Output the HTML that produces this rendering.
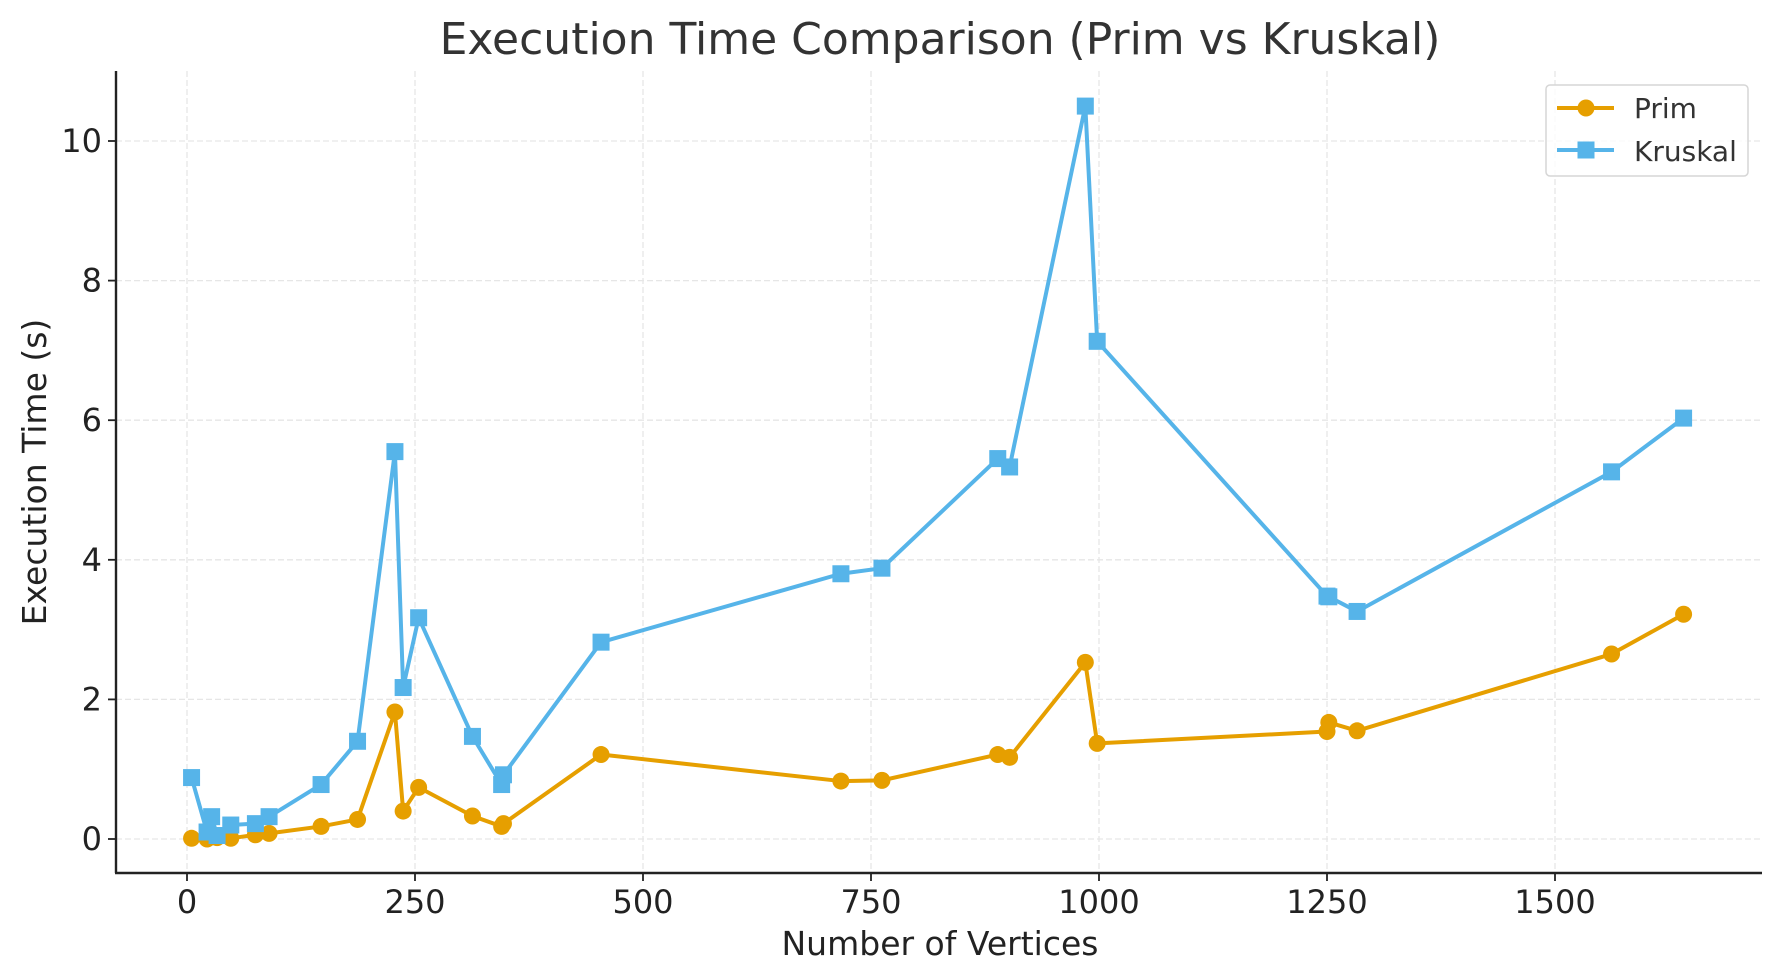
<!DOCTYPE html>
<html><head><meta charset="utf-8"><style>
body{margin:0;background:#fff;}
svg{display:block;font-family:"DejaVu Sans","Liberation Sans",sans-serif;}
</style></head><body>
<svg id="chart" width="1779" height="980" viewBox="0 0 1779 980" xmlns="http://www.w3.org/2000/svg">
<rect width="1779" height="980" fill="#fff"/>
<text x="940" y="54" font-size="44" fill="#333" text-anchor="middle">Execution Time Comparison (Prim vs Kruskal)</text>
<g id="grid"></g>
<g id="series"></g>
<g id="axes"></g>
<text x="940" y="955" font-size="33" fill="#222" text-anchor="middle">Number of Vertices</text>
<text transform="translate(46,472) rotate(-90)" font-size="33" fill="#222" text-anchor="middle">Execution Time (s)</text>
<g>
<rect x="1546" y="85" width="202" height="91" rx="4" fill="#fff" fill-opacity="0.8" stroke="#d6d6d6" stroke-width="1.5"/>
<g>
<line x1="1557" y1="108" x2="1614" y2="108" stroke="#E69F00" stroke-width="4"/>
<circle cx="1586" cy="108" r="8.5" fill="#E69F00"/>
<text x="1634" y="118" font-size="28" fill="#333">Prim</text>
</g>
<g>
<line x1="1557" y1="150" x2="1614" y2="150" stroke="#56B4E9" stroke-width="4"/>
<rect x="1577.5" y="141.5" width="17" height="17" fill="#56B4E9"/>
<text x="1634" y="161" font-size="28" fill="#333">Kruskal</text>
</g>
</g>
</svg>
<script>
const vertices = [5,22,27,33,48,75,90,147,187,228,237,254,313,345,347,454,717,762,889,902,985,998,1250,1252,1283,1562,1641];
const primTimes = [0.01,0.0,0.03,0.02,0.01,0.06,0.08,0.18,0.28,1.82,0.4,0.74,0.33,0.18,0.22,1.21,0.83,0.84,1.21,1.17,2.53,1.37,1.54,1.67,1.55,2.65,3.22];
const kruskalTimes = [0.88,0.1,0.32,0.05,0.2,0.22,0.32,0.78,1.4,5.55,2.17,3.17,1.47,0.78,0.92,2.82,3.8,3.88,5.45,5.33,10.5,7.13,3.48,3.47,3.26,5.26,6.03];
const xTicks = [0,250,500,750,1000,1250,1500];
const yTicks = [0,2,4,6,8,10];

const NS='http://www.w3.org/2000/svg';
const L=116,R=1762,T=71,B=873;
const X0=187,XS=0.912,Y0=839,YS=69.8;
function sx(v){return X0+v*XS;}
function sy(v){return Y0-v*YS;}
function mk(tag,attrs,parent){const e=document.createElementNS(NS,tag);for(const k in attrs)e.setAttribute(k,attrs[k]);parent.appendChild(e);return e;}
const grid=document.getElementById('grid'),axes=document.getElementById('axes'),series=document.getElementById('series');

xTicks.forEach(t=>{
  const g=mk('line',{x1:sx(t),x2:sx(t),y1:T,y2:B,stroke:'#e6e6e6','stroke-width':1.3,'stroke-dasharray':'6,3'},grid);
  
  
  const tk=mk('line',{x1:sx(t),x2:sx(t),y1:B,y2:B+8,stroke:'#222','stroke-width':1.8},axes);
  
  
  const tx=mk('text',{x:sx(t),y:B+40,'font-size':32,fill:'#222','text-anchor':'middle'},axes);
  tx.textContent=t;
  
  
});
yTicks.forEach(t=>{
  const g=mk('line',{x1:L,x2:R,y1:sy(t),y2:sy(t),stroke:'#e6e6e6','stroke-width':1.3,'stroke-dasharray':'6,3'},grid);
  
  
  const tk=mk('line',{x1:L-8,x2:L,y1:sy(t),y2:sy(t),stroke:'#222','stroke-width':1.8},axes);
  
  
  const tx=mk('text',{x:L-14,y:sy(t)+11,'font-size':32,fill:'#222','text-anchor':'end'},axes);
  tx.textContent=t;
  
  
});
const sl=mk('line',{x1:L,x2:L,y1:T,y2:B,stroke:'#222','stroke-width':2.4},axes);


const sb=mk('line',{x1:L-1,x2:R,y1:B,y2:B,stroke:'#222','stroke-width':2.4},axes);



function drawSeries(vals,color,name,square){
  const g=mk('g',{},series);
  
  
  const pts=vertices.map((v,i)=>sx(v)+','+sy(vals[i])).join(' ');
  const pl=mk('polyline',{points:pts,fill:'none',stroke:color,'stroke-width':4,'stroke-linejoin':'round'},g);
  
  
  vertices.forEach((v,i)=>{
    let m;
    if(square) m=mk('rect',{x:sx(v)-8.5,y:sy(vals[i])-8.5,width:17,height:17,fill:color},g);
    else m=mk('circle',{cx:sx(v),cy:sy(vals[i]),r:8.5,fill:color},g);
    
    
  });
}
drawSeries(primTimes,'#E69F00','prim',false);
drawSeries(kruskalTimes,'#56B4E9','kruskal',true);
</script>
</body></html>
